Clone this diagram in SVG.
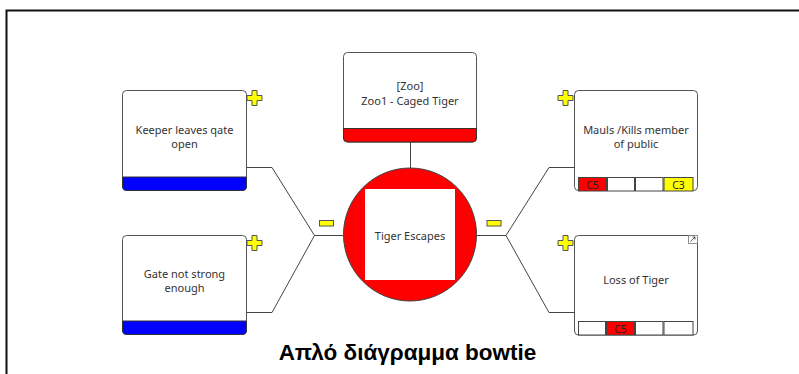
<svg xmlns="http://www.w3.org/2000/svg" width="799" height="374" viewBox="0 0 799 374">
<style>
.box{fill:#fff;stroke:#555;stroke-width:1}
.t{font-family:"Noto Sans","Open Sans",sans-serif;font-size:11px;fill:#333;text-anchor:middle}
.ct{font-family:"Noto Sans","Open Sans",sans-serif;font-size:10.5px;fill:#222;text-anchor:middle}
.ln{fill:none;stroke:#444;stroke-width:1}
.plus{fill:#ffff00;stroke:#555;stroke-width:1}
.cell{stroke:#444;stroke-width:1}
</style>
<rect width="799" height="374" fill="#fff"/>
<path d="M6.5,374 V10.5 H799" fill="none" stroke="#111" stroke-width="2"/>
<g id="connectors">
<path class="ln" d="M247,167.5 H272 L314.5,235.5 H343"/>
<path class="ln" d="M247,312.5 H272 L314.5,235.5"/>
<path class="ln" d="M476,235.5 H506 L549,167.5 H574"/>
<path class="ln" d="M506,235.5 L549,312.5 H574"/>
<path class="ln" d="M410.5,142 V168"/>
<rect x="319.5" y="220.5" width="14" height="5.5" fill="#ffff00" stroke="#555"/>
<rect x="487" y="220.5" width="14" height="5.5" fill="#ffff00" stroke="#555"/>
</g>
<g id="threat1">
<rect class="box" x="122.5" y="90.5" width="124" height="100" rx="4"/>
<path d="M122.5,177 H246.5 V186.5 Q246.5,190.5 242.5,190.5 H126.5 Q122.5,190.5 122.5,186.5 Z" fill="#0000ff" stroke="#333"/>
<text class="t" x="184.5" y="134">Keeper leaves qate</text>
<text class="t" x="184.5" y="148">open</text>
<path class="plus" d="M252,90.5 h5 v5 h5 v5 h-5 v5 h-5 v-5 h-5 v-5 h5 z"/>
</g>
<g id="threat2">
<rect class="box" x="122.5" y="235.5" width="124" height="99" rx="4"/>
<path d="M122.5,321 H246.5 V330.5 Q246.5,334.5 242.5,334.5 H126.5 Q122.5,334.5 122.5,330.5 Z" fill="#0000ff" stroke="#333"/>
<text class="t" x="184.5" y="278">Gate not strong</text>
<text class="t" x="184.5" y="292">enough</text>
<path class="plus" d="M252,235.5 h5 v5 h5 v5 h-5 v5 h-5 v-5 h-5 v-5 h5 z"/>
</g>
<g id="hazard">
<rect class="box" x="343.5" y="52.5" width="133" height="89.5" rx="4"/>
<path d="M343.5,128.5 H476.5 V138 Q476.5,142 472.5,142 H347.5 Q343.5,142 343.5,138 Z" fill="#ff0000" stroke="#333"/>
<text class="t" x="410" y="90">[Zoo]</text>
<text class="t" x="410" y="105">Zoo1 - Caged Tiger</text>
</g>
<g id="topevent">
<circle cx="410" cy="234.5" r="66.5" fill="#ff0000" stroke="#444"/>
<rect x="365" y="189" width="90" height="91" fill="#fff"/>
<text class="t" x="410" y="239.5">Tiger Escapes</text>
</g>
<g id="consequence1">
<rect class="box" x="574.5" y="90.5" width="123" height="100" rx="4"/>
<text class="t" x="636" y="134">Mauls /Kills member</text>
<text class="t" x="636" y="147.5">of public</text>
<rect class="cell" x="578.5" y="177.5" width="28" height="13.5" fill="#ff0000"/>
<rect class="cell" x="607.5" y="177.5" width="27" height="13.5" fill="#fff"/>
<rect class="cell" x="635.5" y="177.5" width="27.5" height="13.5" fill="#fff"/>
<rect class="cell" x="664" y="177.5" width="29" height="13.5" fill="#ffff00"/>
<text class="ct" x="592.5" y="189">C5</text>
<text class="ct" x="678.5" y="189">C3</text>
<path class="plus" d="M563,90.5 h5 v5 h5 v5 h-5 v5 h-5 v-5 h-5 v-5 h5 z"/>
</g>
<g id="consequence2">
<rect class="box" x="574.5" y="235.5" width="123" height="99.5" rx="4"/>
<text class="t" x="636" y="284">Loss of Tiger</text>
<rect class="cell" x="578.5" y="321.5" width="27" height="13.5" fill="#fff"/>
<rect class="cell" x="606.5" y="321.5" width="28" height="13.5" fill="#ff0000"/>
<rect class="cell" x="635.5" y="321.5" width="27.5" height="13.5" fill="#fff"/>
<rect class="cell" x="664" y="321.5" width="29" height="13.5" fill="#fff"/>
<text class="ct" x="620.5" y="333">C5</text>
<rect x="688.5" y="235.5" width="9" height="8" fill="#fff" stroke="#777" stroke-width="0.8"/>
<path d="M690.5,241.5 L695,237 M692.5,237 H695 V239.5" fill="none" stroke="#333" stroke-width="0.8"/>
<path class="plus" d="M563,235.5 h5 v5 h5 v5 h-5 v5 h-5 v-5 h-5 v-5 h5 z"/>
</g>
<text x="407.5" y="359.5" font-family="'Liberation Sans',Arial,sans-serif" font-size="22.5" font-weight="bold" text-anchor="middle" fill="#000">Απλό διάγραμμα bowtie</text>
</svg>
